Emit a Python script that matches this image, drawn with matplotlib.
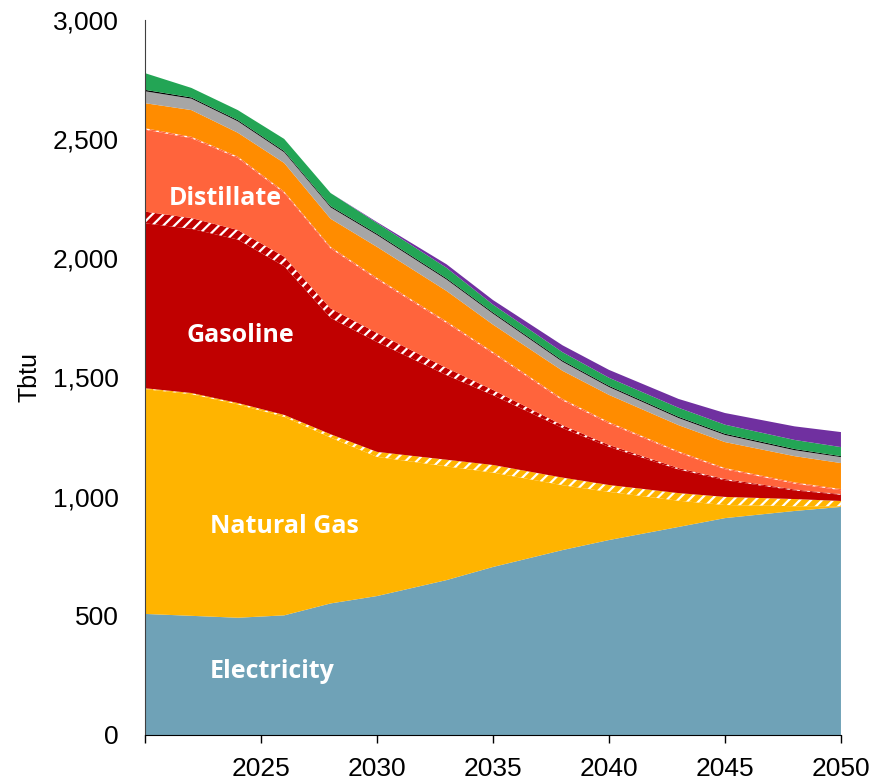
#!/usr/bin/env python3
"""Stacked area chart of energy use by fuel, 2020-2050 (Tbtu)."""

import matplotlib
matplotlib.use('Agg')
import matplotlib.pyplot as plt
from matplotlib.ticker import FuncFormatter, MultipleLocator

years = [2020, 2022, 2024, 2026, 2028, 2030, 2033, 2035, 2038, 2040,
         2043, 2045, 2048, 2050]

electricity = [508, 500, 492, 502, 552, 583, 650, 705, 776, 818, 873, 910, 940, 957]
natural_gas = [943, 930, 895, 833, 696, 584, 477, 396, 272, 202, 110, 55, 20, 3]
rng = [4, 5, 6, 8, 14, 21, 28, 32, 32, 29, 32, 34, 30, 22]
gasoline = [692, 689, 686, 624, 488, 461, 355, 293, 208, 160, 99, 70, 36, 26]
ethanol = [49, 45, 40, 40, 40, 38, 30, 22, 12, 8, 6, 5, 4, 3]
distillate = [344, 335, 302, 267, 252, 225, 189, 153, 104, 90, 65, 41, 25, 16]
biodiesel = [6, 6, 6, 6, 6, 6, 6, 6, 6, 6, 5, 5, 5, 5]
orange_fuel = [105, 112, 100, 120, 118, 130, 128, 115, 118, 114, 110, 109, 110, 109]
grey_fuel = [50, 48, 48, 45, 48, 50, 48, 46, 38, 33, 30, 30, 25, 25]
black_fuel = [6, 5, 5, 5, 5, 5, 5, 5, 5, 5, 5, 5, 5, 4]
green_fuel = [70, 40, 42, 51, 55, 45, 44, 33, 35, 34, 38, 38, 38, 38]
purple_fuel = [0, 0, 0, 0, 0, 4, 15, 19, 29, 33, 37, 49, 57, 63]

layers = [electricity, natural_gas, rng, gasoline, ethanol, distillate,
          biodiesel, orange_fuel, grey_fuel, black_fuel, green_fuel, purple_fuel]
colors = ['#6FA2B7', '#FFB400', '#FFB400', '#C00000', '#C00000', '#FF643C',
          '#FF643C', '#FF8C00', '#A6A6A6', '#000000', '#23A555', '#7030A0']
hatched = [2, 4, 6]

labels = ['Distillate', 'Gasoline', 'Natural Gas', 'Electricity']
label_x = [2023.45, 2024.1, 2026.0, 2025.5]
label_y = [2253, 1678, 873, 268]


def main() -> None:
    plt.rcParams['font.family'] = ['Liberation Sans', 'DejaVu Sans']
    plt.rcParams['hatch.color'] = 'white'
    plt.rcParams['hatch.linewidth'] = 1.6

    fig = plt.figure(figsize=(8.74, 7.81), dpi=100)
    ax = fig.add_axes([0.1659, 0.0589, 0.7963, 0.9155])

    polys = ax.stackplot(years, *layers, colors=colors, linewidth=0)
    for i in hatched:
        polys[i].set_hatch('///')
        polys[i].set_edgecolor('white')
        polys[i].set_linewidth(0)

    for text, x, y in zip(labels, label_x, label_y):
        ax.text(x, y, text, color='white', fontsize=18, fontweight='bold',
                family='Open Sans', ha='center', va='center')

    ax.set_xlim(2020, 2050)
    ax.set_ylim(0, 3000)
    ax.yaxis.set_major_locator(MultipleLocator(500))
    ax.yaxis.set_major_formatter(FuncFormatter(lambda v, _: f'{v:,.0f}'))
    ax.set_xticks([2020, 2025, 2030, 2035, 2040, 2045, 2050])
    ax.set_xticklabels(['', '2025', '2030', '2035', '2040', '2045', '2050'])

    ax.tick_params(axis='x', direction='out', length=6, width=1,
                   labelsize=19, pad=10)
    ax.tick_params(axis='y', length=0, labelsize=19, pad=19)
    ax.set_ylabel('Tbtu', fontsize=18, labelpad=8)

    for side in ('top', 'right'):
        ax.spines[side].set_visible(False)
    ax.spines['left'].set_color('#404040')
    ax.spines['bottom'].set_color('black')

    fig.savefig('out.png', dpi=100)
    plt.close(fig)


if __name__ == '__main__':
    main()
